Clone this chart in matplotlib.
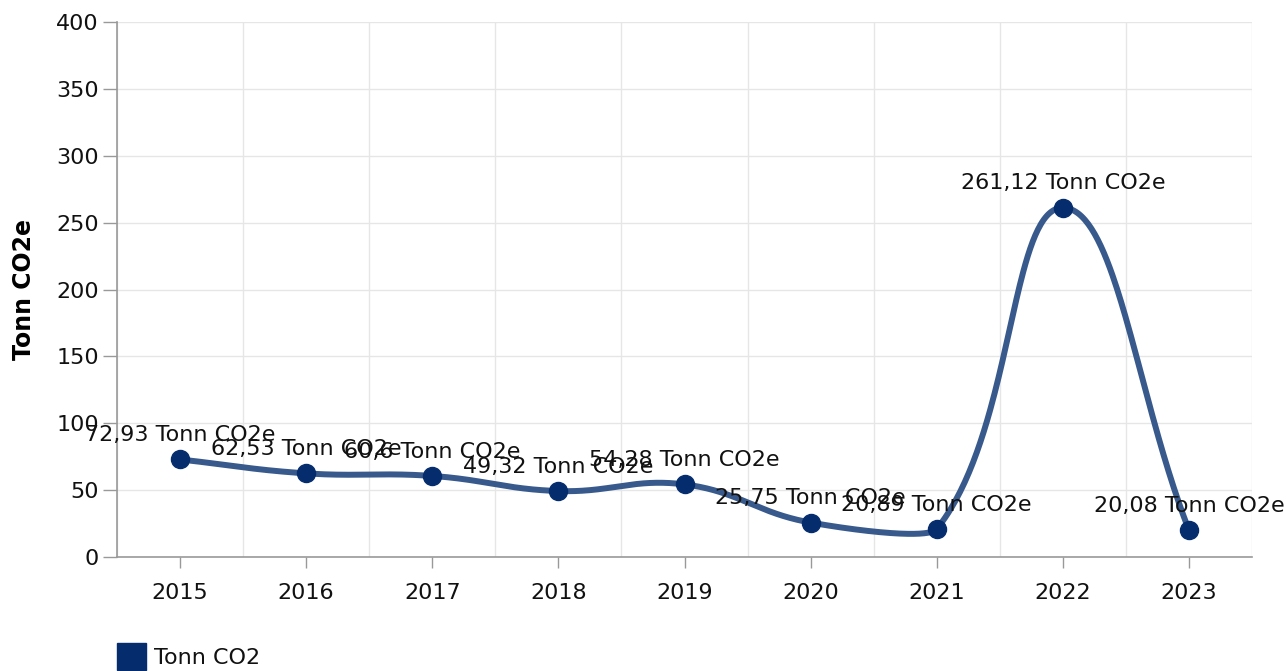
import numpy as np
import matplotlib
matplotlib.use("Agg")
import matplotlib.pyplot as plt
from matplotlib.patches import Rectangle

plt.rcParams['font.family'] = ['DejaVu Sans']

# --- data ---
years = ['2015', '2016', '2017', '2018', '2019', '2020', '2021', '2022', '2023']
values = [72.93, 62.53, 60.6, 49.32, 54.28, 25.75, 20.89, 261.12, 20.08]
labels = ['72,93', '62,53', '60,6', '49,32', '54,28', '25,75', '20,89', '261,12', '20,08']
unit = 'Tonn CO2e'
series_name = 'Tonn CO2'
yticks = [0, 50, 100, 150, 200, 250, 300, 350, 400]

LINE_COL = '#38598c'
DOT_COL = '#052d6e'
GRID_COL = '#e6e6e6'
AXIS_COL = '#999999'
FS = 16


def smooth_curve(ax, xs, ys, tension=0.42, slack=10.0):
    # tension spline worked out in pixel space, handles kept near neighbours
    P = ax.transData.transform(np.column_stack([xs, ys]))
    n = len(P)
    cl = P.copy()
    cr = P.copy()
    for i in range(n):
        prev = P[i - 1] if i > 0 else P[i]
        nxt = P[i + 1] if i < n - 1 else P[i]
        d01 = np.hypot(*(P[i] - prev))
        d12 = np.hypot(*(nxt - P[i]))
        tot = d01 + d12
        s01 = d01 / tot if tot else 0
        s12 = d12 / tot if tot else 0
        v = nxt - prev
        cl[i] = P[i] - tension * s01 * v
        cr[i] = P[i] + tension * s12 * v
        for cp, nb in ((cl, prev), (cr, nxt)):
            lo = min(nb[1], P[i][1]) - slack
            hi = max(nb[1], P[i][1]) + slack
            dy = cp[i][1] - P[i][1]
            if cp[i][1] > hi and dy != 0:
                cp[i] = P[i] + (cp[i] - P[i]) * (hi - P[i][1]) / dy
            elif cp[i][1] < lo and dy != 0:
                cp[i] = P[i] + (cp[i] - P[i]) * (lo - P[i][1]) / dy
    t = np.linspace(0, 1, 80)[:, None]
    segs = []
    for i in range(1, n):
        p0, p1, p2, p3 = P[i - 1], cr[i - 1], cl[i], P[i]
        segs.append((1 - t) ** 3 * p0 + 3 * (1 - t) ** 2 * t * p1
                    + 3 * (1 - t) * t ** 2 * p2 + t ** 3 * p3)
    pix = np.vstack(segs)
    return ax.transData.inverted().transform(pix)


fig = plt.figure(figsize=(12.86, 6.71), dpi=100)
ax = fig.add_axes([117 / 1286, 1 - 557 / 671, (1252 - 117) / 1286, (557 - 22) / 671])

x = np.arange(len(years))
ax.set_xlim(-0.5, len(years) - 0.5)
ax.set_ylim(0, 400)

curve = smooth_curve(ax, x, values)
ax.plot(curve[:, 0], curve[:, 1], color=LINE_COL, lw=4.3, solid_capstyle='round', zorder=3)
ax.plot(x, values, 'o', color=DOT_COL, ms=13, zorder=4)

for xi, v, lab in zip(x, values, labels):
    ax.annotate(f'{lab} {unit}', (xi, v), xytext=(0, 17.5), textcoords='offset points',
                ha='center', va='center', fontsize=FS, color='#111111', zorder=5,
                annotation_clip=False)

ax.set_yticks(yticks)
ax.set_xticks(x)
ax.set_xticklabels(years)
ax.set_xticks(np.arange(-0.5, len(years)), minor=True)
ax.tick_params(axis='both', labelsize=FS, colors=AXIS_COL, labelcolor='#111111')
ax.tick_params(axis='y', length=10, width=1, pad=3)
ax.tick_params(axis='x', which='major', length=8, width=1, pad=11)
ax.tick_params(axis='x', which='minor', length=0)
ax.grid(axis='y', color=GRID_COL, lw=1)
ax.grid(axis='x', which='minor', color=GRID_COL, lw=1)
ax.set_axisbelow(True)
for s in ['top', 'right']:
    ax.spines[s].set_visible(False)
for s in ['left', 'bottom']:
    ax.spines[s].set_color(AXIS_COL)
    ax.spines[s].set_linewidth(1.2)

ax.set_ylabel(unit, fontsize=17, fontweight='bold')
ax.yaxis.set_label_coords(-0.0715, 0.5)

# legend: square + name at bottom left
fig.patches.append(Rectangle((117 / 1286, 1 / 671), 29 / 1286, 27 / 671,
                             transform=fig.transFigure, color=DOT_COL))
fig.text(154 / 1286, 13 / 671, series_name, fontsize=FS, color='#111111',
         ha='left', va='center')

fig.savefig('out.png', dpi=100)
